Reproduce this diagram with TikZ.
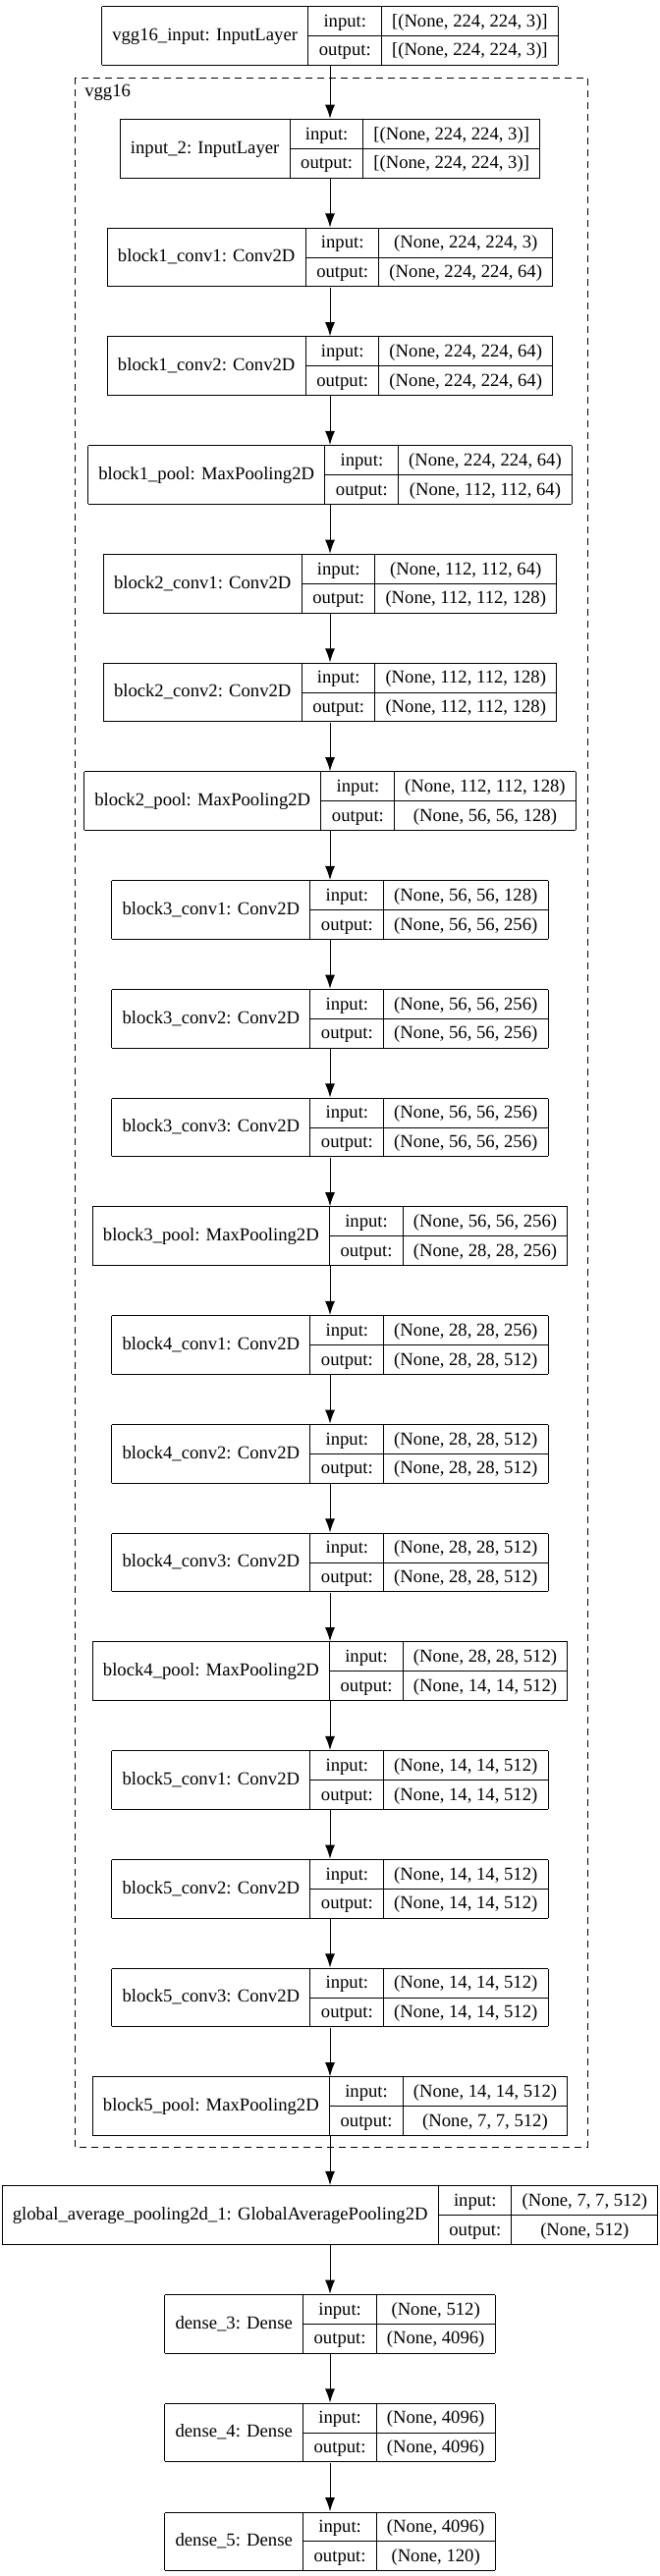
\documentclass[tikz,border=0pt]{standalone}
\usepackage{fontspec}
\setmainfont{Liberation Serif}
\usetikzlibrary{arrows.meta}
\setlength{\arrayrulewidth}{0.75pt}
\setlength{\tabcolsep}{8pt}
\renewcommand{\arraystretch}{1.27}
% one keras layer: name | input/output | shapes
\newcommand{\layerbox}[3]{%
  \begin{tabular}{|c|@{}c@{}|}\hline
  #1 & \begin{tabular}{c|c}input: & #2\\\hline output: & #3\end{tabular}\\\hline
  \end{tabular}}
\tikzset{
  layer/.style={anchor=north, inner sep=0pt, font=\fontsize{14}{17}\selectfont},
  flow/.style={line width=0.75pt, -{Latex[length=10.5pt,width=7.5pt]}},
}
\begin{document}
\begin{tikzpicture}[x=0.75pt,y=-0.75pt]
	\useasboundingbox (0,0) rectangle (671,2623);
	\coordinate (ClusterNW) at (76,79);
	\coordinate (ClusterSE) at (598,2186);

	\draw [line width=0.75pt,dash pattern=on 5pt off 4pt] (ClusterNW) rectangle (ClusterSE);
	\node [anchor=base west,inner sep=0pt,font=\fontsize{14}{17}\selectfont] (clusterlabel) at (86,98) {vgg16};

	\node[layer] (vgginput) at (336,5.7) {\layerbox{vgg16\_input: InputLayer}{[(None, 224, 224, 3)]}{[(None, 224, 224, 3)]}};
	\node[layer] (input2) at (336,120.7) {\layerbox{input\_2: InputLayer}{[(None, 224, 224, 3)]}{[(None, 224, 224, 3)]}};
	\node[layer] (b1conv1) at (336,231.45) {\layerbox{block1\_conv1: Conv2D}{(None, 224, 224, 3)}{(None, 224, 224, 64)}};
	\node[layer] (b1conv2) at (336,342.2) {\layerbox{block1\_conv2: Conv2D}{(None, 224, 224, 64)}{(None, 224, 224, 64)}};
	\node[layer] (b1pool) at (336,452.95) {\layerbox{block1\_pool: MaxPooling2D}{(None, 224, 224, 64)}{(None, 112, 112, 64)}};
	\node[layer] (b2conv1) at (336,563.7) {\layerbox{block2\_conv1: Conv2D}{(None, 112, 112, 64)}{(None, 112, 112, 128)}};
	\node[layer] (b2conv2) at (336,674.45) {\layerbox{block2\_conv2: Conv2D}{(None, 112, 112, 128)}{(None, 112, 112, 128)}};
	\node[layer] (b2pool) at (336,785.2) {\layerbox{block2\_pool: MaxPooling2D}{(None, 112, 112, 128)}{(None, 56, 56, 128)}};
	\node[layer] (b3conv1) at (336,895.95) {\layerbox{block3\_conv1: Conv2D}{(None, 56, 56, 128)}{(None, 56, 56, 256)}};
	\node[layer] (b3conv2) at (336,1006.7) {\layerbox{block3\_conv2: Conv2D}{(None, 56, 56, 256)}{(None, 56, 56, 256)}};
	\node[layer] (b3conv3) at (336,1117.45) {\layerbox{block3\_conv3: Conv2D}{(None, 56, 56, 256)}{(None, 56, 56, 256)}};
	\node[layer] (b3pool) at (336,1228.2) {\layerbox{block3\_pool: MaxPooling2D}{(None, 56, 56, 256)}{(None, 28, 28, 256)}};
	\node[layer] (b4conv1) at (336,1338.95) {\layerbox{block4\_conv1: Conv2D}{(None, 28, 28, 256)}{(None, 28, 28, 512)}};
	\node[layer] (b4conv2) at (336,1449.7) {\layerbox{block4\_conv2: Conv2D}{(None, 28, 28, 512)}{(None, 28, 28, 512)}};
	\node[layer] (b4conv3) at (336,1560.45) {\layerbox{block4\_conv3: Conv2D}{(None, 28, 28, 512)}{(None, 28, 28, 512)}};
	\node[layer] (b4pool) at (336,1671.2) {\layerbox{block4\_pool: MaxPooling2D}{(None, 28, 28, 512)}{(None, 14, 14, 512)}};
	\node[layer] (b5conv1) at (336,1781.95) {\layerbox{block5\_conv1: Conv2D}{(None, 14, 14, 512)}{(None, 14, 14, 512)}};
	\node[layer] (b5conv2) at (336,1892.7) {\layerbox{block5\_conv2: Conv2D}{(None, 14, 14, 512)}{(None, 14, 14, 512)}};
	\node[layer] (b5conv3) at (336,2003.45) {\layerbox{block5\_conv3: Conv2D}{(None, 14, 14, 512)}{(None, 14, 14, 512)}};
	\node[layer] (b5pool) at (336,2114.2) {\layerbox{block5\_pool: MaxPooling2D}{(None, 14, 14, 512)}{(None, 7, 7, 512)}};
	\node[layer] (gap) at (336,2224.95) {\layerbox{global\_average\_pooling2d\_1: GlobalAveragePooling2D}{(None, 7, 7, 512)}{(None, 512)}};
	\node[layer] (dense3) at (336,2335.7) {\layerbox{dense\_3: Dense}{(None, 512)}{(None, 4096)}};
	\node[layer] (dense4) at (336,2446.45) {\layerbox{dense\_4: Dense}{(None, 4096)}{(None, 4096)}};
	\node[layer] (dense5) at (336,2557.2) {\layerbox{dense\_5: Dense}{(None, 4096)}{(None, 120)}};

	\foreach \a/\b in {vgginput/input2,input2/b1conv1,b1conv1/b1conv2,b1conv2/b1pool,b1pool/b2conv1,
		b2conv1/b2conv2,b2conv2/b2pool,b2pool/b3conv1,b3conv1/b3conv2,b3conv2/b3conv3,b3conv3/b3pool,
		b3pool/b4conv1,b4conv1/b4conv2,b4conv2/b4conv3,b4conv3/b4pool,b4pool/b5conv1,b5conv1/b5conv2,
		b5conv2/b5conv3,b5conv3/b5pool,b5pool/gap,gap/dense3,dense3/dense4,dense4/dense5}
		\draw[flow] (\a) -- (\b);
\end{tikzpicture}
\end{document}
